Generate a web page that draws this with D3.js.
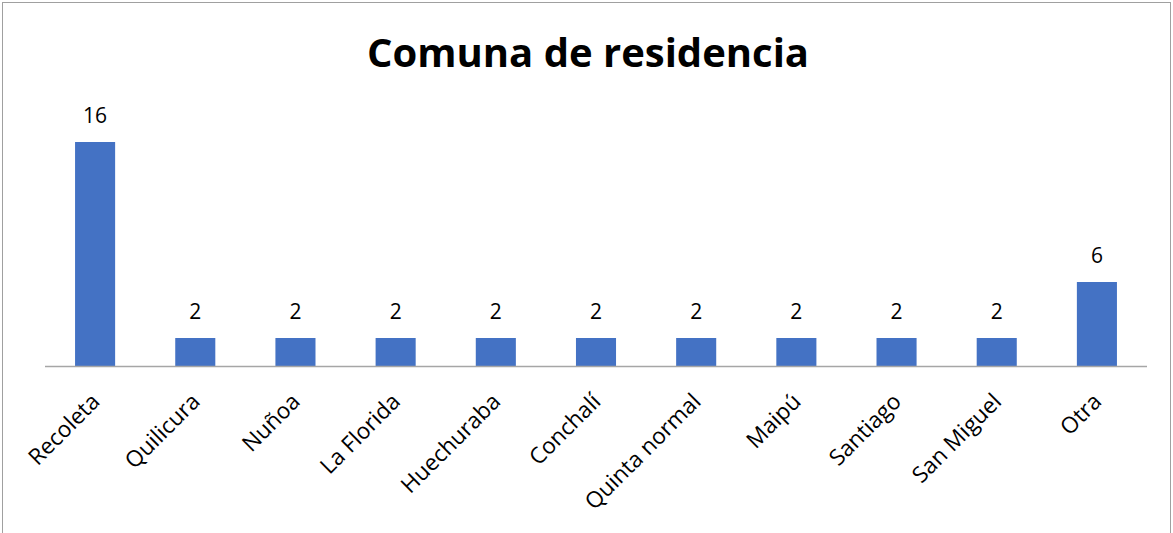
<!DOCTYPE html>
<html>
<head>
<meta charset="UTF-8">
<style>
  body { margin: 0; background: #ffffff; overflow: hidden; }
  svg { display: block; }
  .title { font-family: 'Open Sans', sans-serif; font-weight: bold; fill: #000; }
  .val, .cat { font-family: 'Open Sans', sans-serif; fill: #000; }
</style>
</head>
<body>
<svg width="1173" height="533"></svg>
<script src="https://cdn.jsdelivr.net/npm/d3@7"></script>
<script>
// chart data
const categories = ["Recoleta", "Quilicura", "Nuñoa", "La Florida", "Huechuraba",
                    "Conchalí", "Quinta normal", "Maipú", "Santiago", "San Miguel", "Otra"];
const counts = [16, 2, 2, 2, 2, 2, 2, 2, 2, 2, 6];
const chartTitle = "Comuna de residencia";

let width = 1173, height = 533;
let svg = d3.select("svg");

// outer frame
svg.append("rect")
  .attr("x", 2.5).attr("y", 2.5)
  .attr("width", 1168).attr("height", 540)
  .attr("fill", "none")
  .attr("stroke", "#a0a0a0")
  .attr("stroke-width", 1);

svg.append("text")
  .attr("class", "title")
  .attr("x", 588).attr("y", 67)
  .attr("text-anchor", "middle")
  .attr("font-size", 40)
  .text(chartTitle);

let x = d3.scaleBand()
  .domain(categories)
  .range([45, 1147])
  .paddingInner(0.6)
  .paddingOuter(0.3);

let y = d3.scaleLinear()
  .domain([0, 16])
  .range([366, 142]);

svg.append("g")
  .selectAll("rect")
  .data(categories)
  .enter()
  .append("rect")
  .attr("x", d => x(d))
  .attr("width", x.bandwidth())
  .attr("y", (d, i) => y(counts[i]))
  .attr("height", (d, i) => y(0) - y(counts[i]))
  .attr("fill", "#4472c4");

// baseline
svg.append("line")
  .attr("x1", 45).attr("x2", 1147)
  .attr("y1", y(0) + 0.5).attr("y2", y(0) + 0.5)
  .attr("stroke", "#a6a6a6")
  .attr("stroke-width", 1.5);

// value labels
svg.append("g")
  .selectAll("text")
  .data(categories)
  .enter()
  .append("text")
  .attr("class", "val")
  .attr("x", d => x(d) + x.bandwidth() / 2)
  .attr("y", (d, i) => y(counts[i]) - 19)
  .attr("text-anchor", "middle")
  .attr("font-size", 21)
  .text((d, i) => counts[i]);

// category labels, rotated
svg.append("g")
  .selectAll("text")
  .data(categories)
  .enter()
  .append("text")
  .attr("class", "cat")
  .attr("text-anchor", "end")
  .attr("font-size", 22.5)
  .attr("transform", d => "translate(" + (x(d) + x.bandwidth() / 2 + 6) + ",403) rotate(-45)")
  .text(d => d);
</script>
</body>
</html>
